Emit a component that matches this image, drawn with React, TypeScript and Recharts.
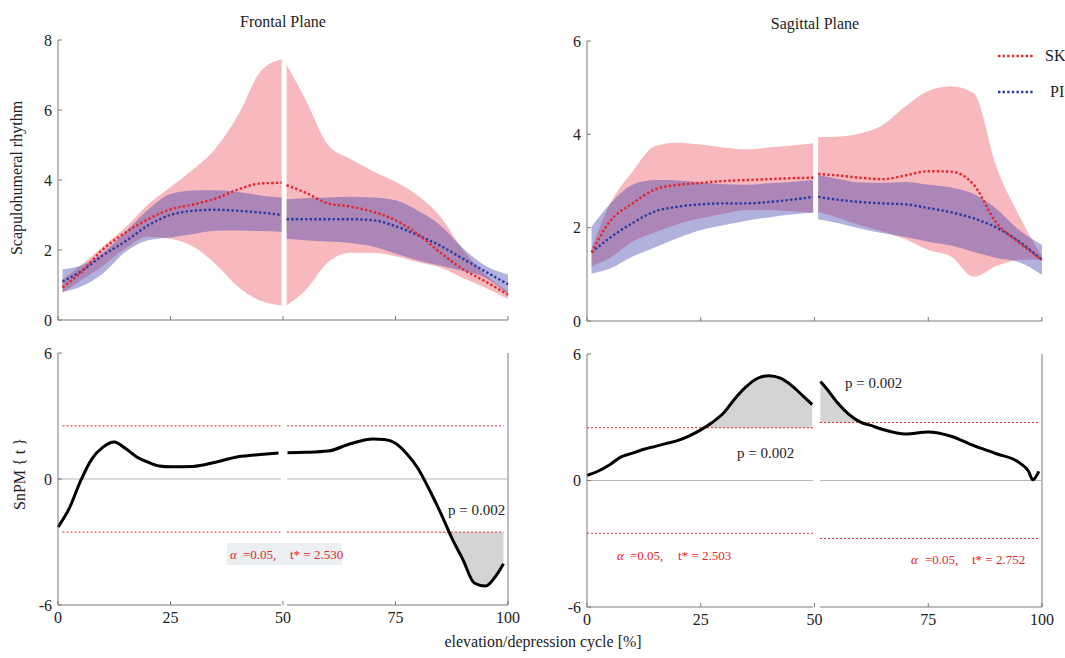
import { ComposedChart, Area, Line, XAxis, YAxis, ReferenceLine } from 'recharts'

const FONT = 'Liberation Serif, DejaVu Serif, serif'
const AXIS = '#7a7a7a'
const RED = '#e3262b'
const BLUE = '#2c3ba0'
const PINK = '#e8283a'
const LAVENDER = '#3c3caa'
const SHADE = '#d4d4d4'
const TEXT = '#222'

const X_TICKS = [0, 25, 50, 75, 100]

// top row: scapulohumeral rhythm, mean and SD band per group
const PLANE_X = [1, 5, 10, 15, 20, 25, 30, 35, 40, 45, 49.7, 50.8, 55, 60, 65, 70, 75, 80, 85, 90, 95, 100]

const FRONTAL_SK_MEAN = [0.93, 1.35, 2.02, 2.5, 2.88, 3.16, 3.3, 3.47, 3.73, 3.9, 3.92, 3.85, 3.64, 3.33, 3.24, 3.09, 2.85, 2.45, 1.92, 1.45, 1.1, 0.72]
const FRONTAL_SK_LO = [0.78, 1.12, 1.55, 2.05, 2.38, 2.32, 2.1, 1.6, 0.95, 0.55, 0.42, 0.42, 0.85, 1.65, 1.92, 1.92, 1.82, 1.65, 1.5, 1.2, 0.92, 0.6]
const FRONTAL_SK_HI = [1.15, 1.55, 2.1, 2.65, 3.3, 3.8, 4.3, 4.9, 5.85, 7.1, 7.45, 7.3, 6.3, 5.0, 4.6, 4.25, 3.95, 3.55, 2.95, 2.0, 1.3, 0.82]
const FRONTAL_PI_MEAN = [1.1, 1.38, 1.85, 2.25, 2.7, 3.0, 3.12, 3.15, 3.12, 3.07, 3.0, 2.88, 2.88, 2.88, 2.88, 2.85, 2.68, 2.42, 2.12, 1.75, 1.38, 1.02]
const FRONTAL_PI_LO = [0.8, 0.95, 1.33, 1.95, 2.28, 2.36, 2.46, 2.55, 2.56, 2.54, 2.52, 2.32, 2.28, 2.24, 2.2, 2.1, 1.9, 1.7, 1.55, 1.4, 1.2, 0.73]
const FRONTAL_PI_HI = [1.45, 1.55, 1.92, 2.52, 3.15, 3.6, 3.7, 3.71, 3.66, 3.56, 3.5, 3.45, 3.48, 3.5, 3.52, 3.5, 3.42, 3.12, 2.7, 2.05, 1.55, 1.3]

const SAG_SK_MEAN = [1.47, 2.13, 2.52, 2.82, 2.92, 2.96, 3.0, 3.02, 3.04, 3.06, 3.07, 3.15, 3.12, 3.07, 3.04, 3.12, 3.21, 3.2, 2.92, 2.1, 1.68, 1.31]
const SAG_SK_LO = [1.17, 1.35, 1.7, 1.9, 2.08, 2.2, 2.3, 2.38, 2.38, 2.35, 2.32, 2.34, 2.22, 2.05, 1.92, 1.75, 1.52, 1.38, 0.95, 1.18, 1.31, 1.31]
const SAG_SK_HI = [1.55, 2.5, 3.2, 3.75, 3.82, 3.78, 3.72, 3.68, 3.72, 3.76, 3.81, 3.94, 3.95, 4.02, 4.2, 4.6, 4.93, 5.03, 4.88, 3.3, 2.25, 1.38]
const SAG_PI_MEAN = [1.47, 1.78, 2.1, 2.35, 2.45, 2.5, 2.52, 2.52, 2.55, 2.6, 2.66, 2.66, 2.6, 2.55, 2.52, 2.5, 2.42, 2.33, 2.2, 2.0, 1.7, 1.31]
const SAG_PI_LO = [1.02, 1.12, 1.38, 1.58, 1.78, 1.95, 2.05, 2.15, 2.22, 2.28, 2.32, 2.18, 2.1, 1.98, 1.88, 1.8, 1.7, 1.62, 1.48, 1.35, 1.26, 0.99]
const SAG_PI_HI = [2.02, 2.5, 2.92, 3.02, 3.01, 2.97, 2.93, 2.92, 2.95, 2.98, 3.02, 3.13, 3.05, 2.97, 2.96, 2.98, 2.92, 2.86, 2.72, 2.4, 1.95, 1.63]

// bottom row: SnPM{t} curves and critical thresholds (first half, second half)
const FRONTAL_T_X = [0, 2.5, 5, 7.5, 10, 12.5, 15, 17.5, 20, 22.5, 25, 30, 35, 40, 45, 49, 51, 55, 60, 65, 70, 72.5, 75, 77.5, 80, 82.5, 85, 87.5, 90, 92.5, 95, 97.5, 99]
const FRONTAL_T = [-2.29, -1.4, -0.1, 0.95, 1.52, 1.76, 1.45, 1.05, 0.8, 0.62, 0.58, 0.6, 0.8, 1.06, 1.17, 1.24, 1.25, 1.27, 1.33, 1.68, 1.9, 1.88, 1.7, 1.2, 0.5, -0.5, -1.6, -2.8, -3.85, -4.95, -5.1, -4.55, -4.03]
const FRONTAL_THR = [2.53, 2.53]

const SAG_T_X = [0, 2.5, 5, 7.5, 10, 12.5, 15, 17.5, 20, 22.5, 25, 27.5, 30, 32.5, 35, 37.5, 40, 42.5, 45, 47.5, 49.5, 51.3, 52.5, 55, 57.5, 60, 62.5, 65, 70, 75, 80, 85, 90, 95, 97, 98, 99.3]
const SAG_T = [0.24, 0.45, 0.75, 1.12, 1.3, 1.48, 1.62, 1.76, 1.9, 2.12, 2.4, 2.75, 3.2, 3.88, 4.45, 4.85, 4.97, 4.85, 4.5, 4.0, 3.6, 4.7, 4.4, 3.7, 3.15, 2.78, 2.6, 2.42, 2.2, 2.3, 2.1, 1.65, 1.27, 0.85, 0.45, 0.03, 0.43]
const SAG_THR = [2.503, 2.752]

type Row = Record<string, any>

// rows with an empty row at 50 so lines and bands break there
function withGap(xs: number[], cols: Record<string, number[]>): Row[] {
  const rows: Row[] = []
  xs.forEach((x, i) => {
    if (i > 0 && xs[i - 1] < 50 && x > 50) rows.push({ x: 50 })
    const row: Row = { x }
    Object.keys(cols).forEach((k) => {
      row[k] = cols[k][i]
    })
    rows.push(row)
  })
  return rows
}

function spmRows(xs: number[], t: number[], thr: number[]): Row[] {
  return withGap(xs, { t }).map((r) => {
    if (r.t == null) return r
    const c = r.x < 50 ? thr[0] : thr[1]
    return { ...r, up: [c, Math.max(r.t, c)], dn: [Math.min(r.t, -c), -c] }
  })
}

const frontalRows = withGap(PLANE_X, {
  skMean: FRONTAL_SK_MEAN, skLo: FRONTAL_SK_LO, skHi: FRONTAL_SK_HI,
  piMean: FRONTAL_PI_MEAN, piLo: FRONTAL_PI_LO, piHi: FRONTAL_PI_HI,
})
const sagittalRows = withGap(PLANE_X, {
  skMean: SAG_SK_MEAN, skLo: SAG_SK_LO, skHi: SAG_SK_HI,
  piMean: SAG_PI_MEAN, piLo: SAG_PI_LO, piHi: SAG_PI_HI,
})
const frontalSpm = spmRows(FRONTAL_T_X, FRONTAL_T, FRONTAL_THR)
const sagittalSpm = spmRows(SAG_T_X, SAG_T, SAG_THR)

const band = (lo: string, hi: string) => (d: Row) => (d[lo] == null ? null : [d[lo], d[hi]])

const txt = (size: number) => ({ fontFamily: FONT, fontSize: size })

const xTick = (label: boolean) => (props: any) => {
  const { x, y, payload } = props
  return (
    <g>
      <line x1={x} x2={x} y1={y} y2={y - 4} stroke={AXIS} />
      {label && (
        <text x={x} y={y + 18} textAnchor="middle" style={txt(16)} fill={TEXT}>
          {payload.value}
        </text>
      )}
    </g>
  )
}

const yTick = (props: any) => {
  const { x, y, payload } = props
  return (
    <g>
      <line x1={x} x2={x + 4} y1={y} y2={y} stroke={AXIS} />
      <text x={x - 6} y={y} dy="0.35em" textAnchor="end" style={txt(16)} fill={TEXT}>
        {payload.value}
      </text>
    </g>
  )
}

interface PanelProps {
  rows: Row[]
  left: number
  top: number
  width: number
  height: number
  margin: { top: number; right: number; bottom: number; left: number }
  xHeight: number
}

function PlanePanel({ rows, left, top, width, height, margin, xHeight, yMax, yTicks }: PanelProps & { yMax: number; yTicks: number[] }) {
  return (
    <div style={{ position: 'absolute', left, top }}>
      <ComposedChart width={width} height={height} data={rows} margin={margin}>
        <XAxis dataKey="x" type="number" domain={[0, 100]} ticks={X_TICKS} interval={0} height={xHeight}
          tickSize={0} tickMargin={0} tickLine={false} axisLine={{ stroke: AXIS }} tick={xTick(false)} />
        <YAxis type="number" domain={[0, yMax]} ticks={yTicks} interval={0} width={40}
          tickSize={0} tickMargin={0} tickLine={false} axisLine={{ stroke: AXIS }} tick={yTick} />
        <Area dataKey={band('skLo', 'skHi')} type="monotone" fill={PINK} fillOpacity={0.33} stroke="none"
          isAnimationActive={false} activeDot={false} />
        <Area dataKey={band('piLo', 'piHi')} type="monotone" fill={LAVENDER} fillOpacity={0.4} stroke="none"
          isAnimationActive={false} activeDot={false} />
        <Line dataKey="piMean" type="monotone" stroke={BLUE} strokeWidth={2.4} strokeDasharray="2.4 2.2"
          dot={false} activeDot={false} isAnimationActive={false} />
        <Line dataKey="skMean" type="monotone" stroke={RED} strokeWidth={2.4} strokeDasharray="2.4 2.2"
          dot={false} activeDot={false} isAnimationActive={false} />
      </ComposedChart>
    </div>
  )
}

function seg(x1: number, x2: number, y: number) {
  return [{ x: x1, y }, { x: x2, y }]
}

function SpmPanel({ rows, left, top, width, height, margin, xHeight, thr, gapL, gapR, thrStart, thrEnd }:
  PanelProps & { thr: number[]; gapL: number; gapR: number; thrStart: number; thrEnd: number }) {
  return (
    <div style={{ position: 'absolute', left, top }}>
      <ComposedChart width={width} height={height} data={rows} margin={margin}>
        <XAxis dataKey="x" type="number" domain={[0, 100]} ticks={X_TICKS} interval={0} height={xHeight}
          tickSize={0} tickMargin={0} tickLine={false} axisLine={false} tick={xTick(true)} />
        <YAxis type="number" domain={[-6, 6]} ticks={[-6, 0, 6]} interval={0} width={40}
          tickSize={0} tickMargin={0} tickLine={false} axisLine={{ stroke: AXIS }} tick={yTick} />
        <Area dataKey="up" type="monotone" fill={SHADE} fillOpacity={1} stroke="none" isAnimationActive={false} activeDot={false} />
        <Area dataKey="dn" type="monotone" fill={SHADE} fillOpacity={1} stroke="none" isAnimationActive={false} activeDot={false} />
        <ReferenceLine segment={seg(0, gapL, -6)} stroke={AXIS} ifOverflow="visible" />
        <ReferenceLine segment={seg(gapR, 100, -6)} stroke={AXIS} ifOverflow="visible" />
        <ReferenceLine x={100} stroke={AXIS} ifOverflow="visible" />
        <ReferenceLine segment={seg(0, gapL, 0)} stroke="#b8b8b8" ifOverflow="visible" />
        <ReferenceLine segment={seg(gapR, 100, 0)} stroke="#b8b8b8" ifOverflow="visible" />
        <ReferenceLine segment={seg(thrStart, gapL, thr[0])} stroke={RED} strokeDasharray="2 2" ifOverflow="visible" />
        <ReferenceLine segment={seg(thrStart, gapL, -thr[0])} stroke={RED} strokeDasharray="2 2" ifOverflow="visible" />
        <ReferenceLine segment={seg(gapR, thrEnd, thr[1])} stroke={RED} strokeDasharray="2 2" ifOverflow="visible" />
        <ReferenceLine segment={seg(gapR, thrEnd, -thr[1])} stroke={RED} strokeDasharray="2 2" ifOverflow="visible" />
        <Line dataKey="t" type="monotone" stroke="#000" strokeWidth={3} dot={false} activeDot={false} isAnimationActive={false} />
      </ComposedChart>
    </div>
  )
}

function Alpha({ x, y, parts }: { x: number[]; y: number; parts: string[] }) {
  return (
    <text y={y} style={txt(13)} fill={RED}>
      <tspan x={x[0]} fontStyle="italic">α</tspan>
      <tspan x={x[1]}>{parts[0]}</tspan>
      <tspan x={x[2]}>{parts[1]}</tspan>
    </text>
  )
}

export default function App() {
  return (
    <div style={{ position: 'absolute', left: 0, top: 0, width: 1065, height: 658, background: '#fff', overflow: 'hidden' }}>
      <PlanePanel rows={frontalRows} left={0} top={0} width={530} height={330}
        margin={{ top: 40, right: 22, bottom: 0, left: 18 }} xHeight={10} yMax={8} yTicks={[0, 2, 4, 6, 8]} />
      <PlanePanel rows={sagittalRows} left={530} top={0} width={535} height={330}
        margin={{ top: 41, right: 23, bottom: 0, left: 17 }} xHeight={9} yMax={6} yTicks={[0, 2, 4, 6]} />
      <SpmPanel rows={frontalSpm} left={0} top={330} width={530} height={328}
        margin={{ top: 23, right: 22, bottom: 23, left: 18 }} xHeight={30}
        thr={FRONTAL_THR} gapL={49.6} gapR={50.9} thrStart={1} thrEnd={99} />
      <SpmPanel rows={sagittalSpm} left={530} top={330} width={535} height={328}
        margin={{ top: 24, right: 23, bottom: 21, left: 17 }} xHeight={30}
        thr={SAG_THR} gapL={49.7} gapR={51.2} thrStart={0} thrEnd={99.4} />

      <svg width={1065} height={658} style={{ position: 'absolute', left: 0, top: 0, pointerEvents: 'none' }}>
        <g fill={TEXT}>
          <text x={283} y={27} textAnchor="middle" style={txt(16)}>Frontal Plane</text>
          <text x={815} y={29} textAnchor="middle" style={txt(16)}>Sagittal Plane</text>
          <text transform="translate(22,178) rotate(-90)" textAnchor="middle" style={txt(16)}>Scapulohumeral rhythm</text>
          <text transform="translate(25,474) rotate(-90)" textAnchor="middle" style={txt(16)}>SnPM {'{ t }'}</text>
          <text x={543} y={647} textAnchor="middle" style={txt(16)}>elevation/depression cycle [%]</text>
          <text x={1045} y={61} style={txt(16)}>SK</text>
          <text x={1050} y={97} style={txt(16)}>PI</text>
          <text x={448} y={515} style={txt(15)}>p = 0.002</text>
          <text x={845} y={388} style={txt(15)}>p = 0.002</text>
          <text x={737} y={458} style={txt(15)}>p = 0.002</text>
        </g>
        <line x1={998} x2={1033} y1={56} y2={56} stroke={RED} strokeWidth={2.4} strokeDasharray="2.4 2.2" />
        <line x1={998} x2={1034} y1={92} y2={92} stroke={BLUE} strokeWidth={2.4} strokeDasharray="2.4 2.2" />
        <rect x={227} y={543} width={115} height={22} fill="#eceff2" />
        <Alpha x={[230, 243, 290]} y={559} parts={['=0.05,', 't* = 2.530']} />
        <Alpha x={[617, 630, 678]} y={560} parts={['=0.05,', 't* = 2.503']} />
        <Alpha x={[911, 925, 972]} y={564} parts={['=0.05,', 't* = 2.752']} />
      </svg>
    </div>
  )
}
